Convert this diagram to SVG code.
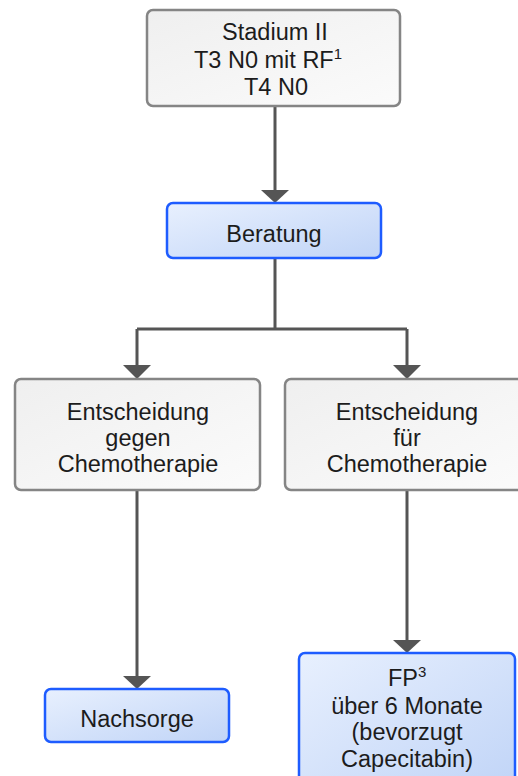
<svg xmlns="http://www.w3.org/2000/svg" width="518" height="776" viewBox="0 0 518 776">
<defs>
<linearGradient id="gGray" x1="0" y1="0" x2="1" y2="1">
<stop offset="0" stop-color="#efefef"/>
<stop offset="1" stop-color="#fbfbfb"/>
</linearGradient>
<linearGradient id="gBlue" x1="0" y1="0" x2="1" y2="1">
<stop offset="0" stop-color="#e8f0fe"/>
<stop offset="1" stop-color="#c0d4f7"/>
</linearGradient>
<style>
.gray{fill:url(#gGray);stroke:#858585;stroke-width:2.5}
.blue{fill:url(#gBlue);stroke:#1e5cff;stroke-width:2.5}
text{font-family:"Liberation Sans",Arial,sans-serif;font-size:23.5px;fill:#1c1c1c;text-anchor:middle}
.sup{font-size:15px}
.conn{fill:none;stroke:#555555;stroke-width:3}
.head{fill:#555555}
</style>
</defs>
<g id="connectors">
<path class="conn" d="M275,106 V191"/>
<path class="head" d="M261,190 L289,190 L275,203 z"/>
<path class="conn" d="M275,258 V329 M137,329 H407 M137,329 V366 M407,329 V366"/>
<path class="head" d="M123,365 L151,365 L137,379 z"/>
<path class="head" d="M393,365 L421,365 L407,379 z"/>
<path class="conn" d="M137,490 V677"/>
<path class="head" d="M123,676 L151,676 L137,689 z"/>
<path class="conn" d="M407,490 V641"/>
<path class="head" d="M393,640 L421,640 L407,653 z"/>
</g>
<g id="stadium">
<rect class="gray" x="147" y="10" width="253" height="96" rx="6"/>
<text x="275" y="40">Stadium II</text>
<text x="194" y="68" style="text-anchor:start">T3 N0 mit RF<tspan class="sup" dy="-9">1</tspan></text>
<text x="276" y="95">T4 N0</text>
</g>
<g id="beratung">
<rect class="blue" x="167" y="203" width="214" height="55" rx="6"/>
<text x="274" y="242">Beratung</text>
</g>
<g id="gegen">
<rect class="gray" x="15" y="379" width="245" height="111" rx="6"/>
<text x="138" y="420">Entscheidung</text>
<text x="138" y="446">gegen</text>
<text x="138" y="472">Chemotherapie</text>
</g>
<g id="fuer">
<rect class="gray" x="285" y="379" width="245" height="111" rx="6"/>
<text x="407" y="420">Entscheidung</text>
<text x="407" y="446">für</text>
<text x="407" y="472">Chemotherapie</text>
</g>
<g id="nachsorge">
<rect class="blue" x="45" y="689" width="184" height="53" rx="6"/>
<text x="137" y="727">Nachsorge</text>
</g>
<g id="fp">
<rect class="blue" x="299" y="653" width="216" height="140" rx="6"/>
<text x="388" y="686" style="text-anchor:start">FP<tspan class="sup" dy="-9">3</tspan></text>
<text x="407" y="714">über 6 Monate</text>
<text x="407" y="740">(bevorzugt</text>
<text x="407" y="767">Capecitabin)</text>
</g>
</svg>
